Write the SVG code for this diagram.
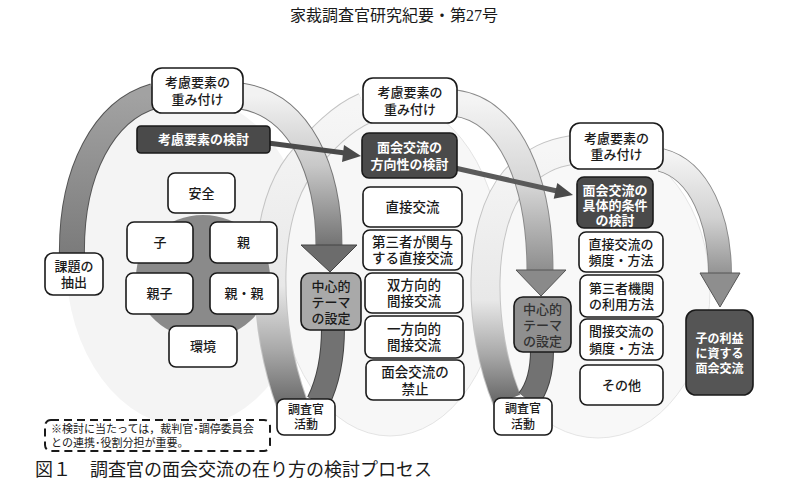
<svg xmlns="http://www.w3.org/2000/svg" width="788" height="490" viewBox="0 0 788 490">
<defs>
<style>
.t{font-family:"Liberation Sans","Noto Sans CJK JP","Noto Sans CJK SC",sans-serif;font-size:13px;font-weight:500;fill:#1a1a1a;text-anchor:middle;dominant-baseline:central}
.tw{fill:#ffffff;font-weight:bold}
.s135{font-size:13.5px}
.s12{font-size:12px}
.s11{font-size:11px;text-anchor:start;font-weight:400}
.box{fill:#ffffff;stroke:#1a1a1a;stroke-width:1.6}
.dark{fill:#4a4a4a;stroke:#1a1a1a;stroke-width:1.6}
.gray1{fill:#a9a9a9;stroke:#1a1a1a;stroke-width:1.6}
.gray2{fill:#8f8f8f;stroke:#1a1a1a;stroke-width:1.6}
.hdr{font-family:"Liberation Serif","Noto Sans CJK JP",serif;fill:#1a1a1a;text-anchor:middle}
.cap{font-size:18px;text-anchor:start}
.ol{fill:none;stroke-linecap:butt}
</style>
<linearGradient id="gL1" gradientUnits="userSpaceOnUse" x1="0" y1="258" x2="0" y2="96">
<stop offset="0" stop-color="#7a7a7a"/><stop offset="1" stop-color="#a2a2a2"/>
</linearGradient>
<linearGradient id="gR1" gradientUnits="userSpaceOnUse" x1="0" y1="96" x2="0" y2="250">
<stop offset="0" stop-color="#f2f2f2"/><stop offset="0.45" stop-color="#c8c8c8"/><stop offset="1" stop-color="#6e6e6e"/>
</linearGradient>
<linearGradient id="gR2" gradientUnits="userSpaceOnUse" x1="0" y1="100" x2="0" y2="275">
<stop offset="0" stop-color="#f4f4f4"/><stop offset="0.5" stop-color="#d4d4d4"/><stop offset="1" stop-color="#8a8a8a"/>
</linearGradient>
<linearGradient id="gR3" gradientUnits="userSpaceOnUse" x1="0" y1="155" x2="0" y2="280">
<stop offset="0" stop-color="#f4f4f4"/><stop offset="0.5" stop-color="#d2d2d2"/><stop offset="1" stop-color="#8c8c8c"/>
</linearGradient>
<linearGradient id="gB2" gradientUnits="userSpaceOnUse" x1="0" y1="404" x2="0" y2="108">
<stop offset="0" stop-color="#6a6a6a"/><stop offset="0.18" stop-color="#a8a8a8"/><stop offset="0.4" stop-color="#e8e8e8"/><stop offset="1" stop-color="#f6f6f6"/>
</linearGradient>
<linearGradient id="gB3" gradientUnits="userSpaceOnUse" x1="0" y1="400" x2="0" y2="150">
<stop offset="0" stop-color="#6a6a6a"/><stop offset="0.18" stop-color="#a8a8a8"/><stop offset="0.4" stop-color="#e8e8e8"/><stop offset="1" stop-color="#f6f6f6"/>
</linearGradient>
</defs>

<rect x="0" y="0" width="788" height="490" fill="#ffffff"/>

<g id="header">
<text class="hdr" x="394" y="21" font-size="16">家裁調査官研究紀要・第27号</text>
</g>

<g id="background">
<ellipse cx="188" cy="262" rx="122" ry="165" fill="#f4f4f4"/>
<ellipse cx="390" cy="268" rx="112" ry="168" fill="#f7f7f7" stroke="#dddddd" stroke-width="0.8"/>
<ellipse cx="598" cy="290" rx="112" ry="148" fill="#f8f8f8" stroke="#dedede" stroke-width="0.8"/>
</g>

<g id="connectors">
<path class="ol" d="M 292 404 C 262 320 262 215 300 165 C 322 138 342 118 365 108" stroke="#c4c4c4" stroke-width="32"/>
<path class="ol" d="M 292 404 C 262 320 262 215 300 165 C 322 138 342 118 365 108" stroke="url(#gB2)" stroke-width="30"/>
<path class="ol" d="M 507 400 C 478 330 476 225 515 180 C 535 160 552 153 572 150" stroke="#c4c4c4" stroke-width="30"/>
<path class="ol" d="M 507 400 C 478 330 476 225 515 180 C 535 160 552 153 572 150" stroke="url(#gB3)" stroke-width="28"/>

<path class="ol" d="M 72 258 C 70 170 105 110 154 96" stroke="#555" stroke-width="26"/>
<path class="ol" d="M 72 258 C 70 170 105 110 154 96" stroke="url(#gL1)" stroke-width="24"/>
<path class="ol" d="M 241 96 C 300 105 329 170 329 247" stroke="#777" stroke-width="27"/>
<path class="ol" d="M 241 96 C 300 105 329 170 329 247" stroke="url(#gR1)" stroke-width="25"/>
<polygon points="301,245 357,245 330,272" fill="#6c6c6c" stroke="#444" stroke-width="1"/>
<path class="ol" d="M 333 328 C 333 360 328 382 318 402" stroke="#444" stroke-width="24"/>
<path class="ol" d="M 333 328 C 333 360 328 382 318 402" stroke="#727272" stroke-width="22"/>

<path class="ol" d="M 455 103 C 510 110 540 180 540 272" stroke="#8a8a8a" stroke-width="27"/>
<path class="ol" d="M 455 103 C 510 110 540 180 540 272" stroke="url(#gR2)" stroke-width="25"/>
<polygon points="516,270 566,270 541,296" fill="#8a8a8a" stroke="#555" stroke-width="1"/>
<path class="ol" d="M 542 350 C 542 375 536 390 528 400" stroke="#444" stroke-width="24"/>
<path class="ol" d="M 542 350 C 542 375 536 390 528 400" stroke="#727272" stroke-width="22"/>

<path class="ol" d="M 661 160 C 700 170 720 220 720 275" stroke="#8a8a8a" stroke-width="24"/>
<path class="ol" d="M 661 160 C 700 170 720 220 720 275" stroke="url(#gR3)" stroke-width="22"/>
<polygon points="700,273 740,273 720,307" fill="#8e8e8e" stroke="#555" stroke-width="1"/>

<line x1="268" y1="143" x2="345" y2="153" stroke="#4a4a4a" stroke-width="5"/>
<polygon points="361,156 342,162 344,145" fill="#4a4a4a"/>
<line x1="455" y1="168" x2="557" y2="191" stroke="#5a5a5a" stroke-width="5"/>
<polygon points="573,195 553.7,198.7 557.3,183.1" fill="#4a4a4a"/>
</g>

<g id="w1"><rect class="box" x="152" y="68" width="91" height="45" rx="10"/><text class="t" x="197.5" y="82">考慮要素の<tspan x="197.5" dy="17">重み付け</tspan></text></g>
<g id="k1"><rect class="dark" x="137" y="126" width="133" height="27" rx="4"/><text class="t tw" x="203.5" y="139.5">考慮要素の検討</text></g>
<g id="center1"><ellipse cx="203" cy="277" rx="67" ry="62" fill="#8a8a8a"/></g>
<g id="anzen"><rect class="box" x="168" y="173" width="67" height="40" rx="7"/><text class="t" x="201.5" y="193">安全</text></g>
<g id="ko"><rect class="box" x="127" y="222" width="66" height="41" rx="7"/><text class="t" x="160" y="242.5">子</text></g>
<g id="oya"><rect class="box" x="210" y="222" width="67" height="41" rx="7"/><text class="t" x="243.5" y="242.5">親</text></g>
<g id="oyako"><rect class="box" x="126" y="273" width="67" height="41" rx="7"/><text class="t" x="159.5" y="293.5">親子</text></g>
<g id="oyaoya"><rect class="box" x="210" y="273" width="68" height="41" rx="7"/><text class="t" x="244" y="293.5">親・親</text></g>
<g id="kankyo"><rect class="box" x="169" y="326" width="68" height="41" rx="7"/><text class="t" x="203" y="346.5">環境</text></g>
<g id="kadai"><rect class="box" x="45" y="253" width="58" height="42" rx="8"/><text class="t" x="74" y="266">課題の<tspan x="74" dy="16">抽出</tspan></text></g>
<g id="chushin1"><rect class="gray1" x="301" y="273" width="60" height="57" rx="9"/><text class="t" x="331" y="286">中心的<tspan x="331" dy="16">テーマ</tspan><tspan x="331" dy="16">の設定</tspan></text></g>
<g id="chosa1"><rect class="box" x="277" y="399" width="58" height="36" rx="7"/><text class="t s12" x="306" y="409.5">調査官<tspan x="306" dy="15.5">活動</tspan></text></g>
<g id="note"><rect x="45" y="420" width="225" height="31" rx="6" fill="#ffffff" stroke="#1a1a1a" stroke-width="2" stroke-dasharray="8 5"/><text class="t s11" x="51" y="428.5">※検討に当たっては，裁判官･調停委員会<tspan x="51" dy="14.5">との連携･役割分担が重要。</tspan></text></g>

<g id="w2"><rect class="box" x="363" y="78" width="94" height="45" rx="10"/><text class="t" x="410" y="92">考慮要素の<tspan x="410" dy="17">重み付け</tspan></text></g>
<g id="d2"><rect class="dark" x="362" y="133" width="95" height="45" rx="7"/><text class="t tw" x="409.5" y="147">面会交流の<tspan x="409.5" dy="17">方向性の検討</tspan></text></g>
<g id="m1"><rect class="box" x="363" y="187" width="99" height="40" rx="7"/><text class="t s135" x="412.5" y="207">直接交流</text></g>
<g id="m2"><rect class="box" x="363" y="230" width="99" height="40" rx="7"/><text class="t s135" x="412.5" y="242">第三者が関与<tspan x="412.5" dy="16">する直接交流</tspan></text></g>
<g id="m3"><rect class="box" x="365" y="273" width="98" height="40" rx="7"/><text class="t s135" x="414" y="285">双方向的<tspan x="414" dy="16">間接交流</tspan></text></g>
<g id="m4"><rect class="box" x="365" y="316" width="98" height="42" rx="7"/><text class="t s135" x="414" y="329">一方向的<tspan x="414" dy="16">間接交流</tspan></text></g>
<g id="m5"><rect class="box" x="366" y="360" width="98" height="40" rx="7"/><text class="t s135" x="415" y="372">面会交流の<tspan x="415" dy="17">禁止</tspan></text></g>

<g id="w3"><rect class="box" x="570" y="123" width="93" height="46" rx="10"/><text class="t" x="616.5" y="138">考慮要素の<tspan x="616.5" dy="16">重み付け</tspan></text></g>
<g id="d3"><rect class="dark" x="577" y="177" width="76" height="51" rx="7"/><text class="t tw" x="615" y="190">面会交流の<tspan x="615" dy="15">具体的条件</tspan><tspan x="615" dy="15">の検討</tspan></text></g>
<g id="r1"><rect class="box" x="579" y="232" width="84" height="40" rx="7"/><text class="t" x="621" y="244">直接交流の<tspan x="621" dy="16">頻度・方法</tspan></text></g>
<g id="r2"><rect class="box" x="580" y="275" width="83" height="42" rx="7"/><text class="t" x="621.5" y="288">第三者機関<tspan x="621.5" dy="16">の利用方法</tspan></text></g>
<g id="r3"><rect class="box" x="580" y="319" width="83" height="41" rx="7"/><text class="t" x="621.5" y="331">間接交流の<tspan x="621.5" dy="17">頻度・方法</tspan></text></g>
<g id="r4"><rect class="box" x="580" y="365" width="83" height="40" rx="7"/><text class="t" x="621.5" y="385">その他</text></g>
<g id="chushin2"><rect class="gray2" x="514" y="297" width="57" height="55" rx="9"/><text class="t" x="542.5" y="309" style="fill:#333">中心的<tspan x="542.5" dy="16">テーマ</tspan><tspan x="542.5" dy="16">の設定</tspan></text></g>
<g id="chosa2"><rect class="box" x="494" y="398" width="58" height="37" rx="7"/><text class="t s12" x="523" y="409">調査官<tspan x="523" dy="16">活動</tspan></text></g>
<g id="final"><rect class="dark" x="686" y="310" width="67" height="85" rx="10" style="fill:#555"/><text class="t tw s12" x="719.5" y="339">子の利益<tspan x="719.5" dy="15">に資する</tspan><tspan x="719.5" dy="15">面会交流</tspan></text></g>

<g id="caption">
<text class="hdr cap" x="35" y="476">図１</text>
<text class="hdr cap" x="90" y="476">調査官の面会交流の在り方の検討プロセス</text>
</g>
</svg>
